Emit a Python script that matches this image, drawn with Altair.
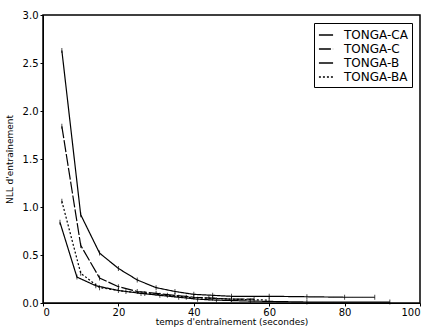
import altair as alt
import pandas as pd

series_names = ["TONGA-CA", "TONGA-C", "TONGA-B", "TONGA-BA"]

ca_x = [5, 10, 15, 20, 25, 30, 35, 40, 45, 50, 60, 70, 80, 88]
ca_y = [2.63, 0.92, 0.52, 0.36, 0.24, 0.16, 0.12, 0.09, 0.08, 0.07, 0.07, 0.065, 0.06, 0.06]

c_x = [5, 10, 15, 20, 25, 30, 35, 40, 45, 50, 56]
c_y = [1.84, 0.60, 0.26, 0.17, 0.12, 0.10, 0.08, 0.06, 0.05, 0.04, 0.04]

b_x = [4.5, 9, 14, 20, 26, 31, 36, 41, 46, 55, 70, 92]
b_y = [0.84, 0.27, 0.18, 0.13, 0.10, 0.08, 0.06, 0.04, 0.03, 0.02, 0.01, 0.01]

ba_x = [5, 10, 15, 22, 27, 33, 38, 44, 50, 60]
ba_y = [1.06, 0.31, 0.16, 0.12, 0.10, 0.08, 0.06, 0.05, 0.04, 0.03]

rows = []
for name, xs, ys in zip(series_names, [ca_x, c_x, b_x, ba_x], [ca_y, c_y, b_y, ba_y]):
    for i, (x, y) in enumerate(zip(xs, ys)):
        rows.append({"serie": name, "t": x, "nll": y, "ordre": i})
df = pd.DataFrame(rows)

font = "DejaVu Sans"

xenc = alt.X("t:Q", scale=alt.Scale(domain=[0, 100], nice=False),
             axis=alt.Axis(values=[0, 20, 40, 60, 80, 100], format="d",
                           title="temps d'entraînement (secondes)", grid=False,
                           tickSize=3, labelPadding=1, titlePadding=0,
                           domainColor="black", tickColor="black",
                           labelFont=font, titleFont=font, labelFontSize=10,
                           titleFontSize=9, labelColor="black", titleColor="black",
                           titleFontWeight="normal"))
yenc = alt.Y("nll:Q", scale=alt.Scale(domain=[0, 3], nice=False),
             axis=alt.Axis(values=[0, 0.5, 1, 1.5, 2, 2.5, 3], format=".1f",
                           title="NLL d'entraînement", grid=False,
                           tickSize=3, labelPadding=2, titlePadding=8,
                           domainColor="black", tickColor="black",
                           labelFont=font, titleFont=font, labelFontSize=10,
                           titleFontSize=9, labelColor="black", titleColor="black",
                           titleFontWeight="normal"))

dash = alt.StrokeDash("serie:N", sort=series_names,
                      scale=alt.Scale(domain=series_names,
                                      range=[[1, 0], [12, 2], [1, 0], [2, 2]]),
                      legend=alt.Legend(title=None, orient="top-right",
                                        symbolType="stroke", symbolStrokeColor="black",
                                        symbolSize=200, symbolStrokeWidth=1.5,
                                        labelFontSize=12, labelFont=font,
                                        labelColor="black", labelOffset=10,
                                        strokeColor="black", fillColor="white",
                                        padding=4, rowPadding=-4, offset=8,
                                        cornerRadius=0))

lines = alt.Chart(df).mark_line(color="black", strokeWidth=1.2).encode(
    x=xenc, y=yenc, strokeDash=dash, detail="serie:N", order="ordre:Q"
)

ticks = alt.Chart(df).mark_tick(color="black", orient="vertical", size=5, thickness=1).encode(
    x="t:Q", y="nll:Q"
)

chart = (lines + ticks).properties(
    width=377, height=288,
    background="white",
    autosize=alt.AutoSizeParams(type="none"),
    padding={"left": 43, "top": 15, "right": 10, "bottom": 26},
).configure_view(stroke="black", strokeWidth=1.5)

chart.save("out.html", embed_options={"renderer": "svg", "actions": False})
